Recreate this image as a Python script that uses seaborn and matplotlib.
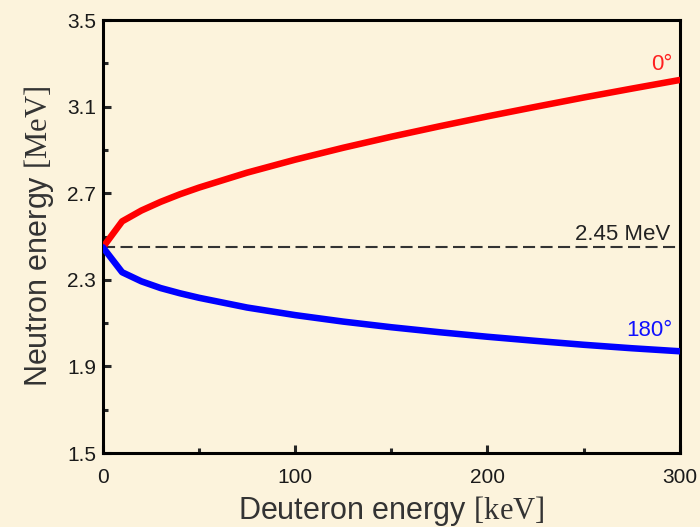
import numpy as np
import pandas as pd
import matplotlib.pyplot as plt
import matplotlib.ticker as ticker
import seaborn as sns

# deuteron energy (keV) and neutron energy (MeV)
deuteron_kev = [0, 10, 20, 30, 40, 50, 75, 100, 125, 150, 175, 200, 225, 250, 275, 300]
neutron_0deg = [2.45, 2.57, 2.62, 2.66, 2.695, 2.726, 2.795, 2.855, 2.91, 2.961,
                3.009, 3.055, 3.099, 3.142, 3.183, 3.223]
neutron_180deg = [2.45, 2.335, 2.293, 2.262, 2.238, 2.217, 2.172, 2.137, 2.107, 2.081,
                  2.058, 2.037, 2.018, 2.0, 1.984, 1.97]
ref_energy = 2.45
y_major = [1.5, 1.9, 2.3, 2.7, 3.1, 3.5]
y_minor = [1.7, 2.1, 2.5, 2.9, 3.3]

df = pd.DataFrame({'Ed': deuteron_kev, 'fwd': neutron_0deg, 'bwd': neutron_180deg})

bg = '#fcf3dc'
sns.set_theme(style='ticks')
plt.rcParams['font.family'] = ['Liberation Sans', 'DejaVu Sans']
plt.rcParams['mathtext.fontset'] = 'custom'
plt.rcParams['mathtext.rm'] = 'Liberation Serif'

fig = plt.figure(figsize=(7, 5.27), dpi=100, facecolor=bg)
ax = fig.add_axes([0.147, 0.1404, 0.824, 0.8216])
ax.set_facecolor(bg)

ax.axhline(ref_energy, color='#333333', lw=1.5, ls=(0, (5.8, 2.6)), zorder=1)
sns.lineplot(data=df, x='Ed', y='fwd', color='#ff0000', lw=4.7, ax=ax, zorder=3)
sns.lineplot(data=df, x='Ed', y='bwd', color='#0000ff', lw=4.7, ax=ax, zorder=3)

ax.set_xlim(0, 300)
ax.set_ylim(1.5, 3.5)
ax.xaxis.set_major_locator(ticker.MultipleLocator(100))
ax.xaxis.set_minor_locator(ticker.MultipleLocator(50))
ax.yaxis.set_major_locator(ticker.FixedLocator(y_major))
ax.yaxis.set_minor_locator(ticker.FixedLocator(y_minor))
ax.yaxis.set_major_formatter(ticker.FormatStrFormatter('%.1f'))

for s in ax.spines.values():
    s.set_linewidth(2.2)
    s.set_color('black')
ax.tick_params(which='major', direction='in', length=6, width=2.2, labelsize=15,
               labelcolor='#1a1a1a')
ax.tick_params(axis='x', which='major', pad=11)
ax.tick_params(axis='y', which='major', pad=5)
ax.tick_params(which='minor', direction='in', length=3.6, width=2.2)

ax.set_xlabel(r'Deuteron energy $[\mathrm{keV}]$', fontsize=22, color='#333333', labelpad=5)
ax.set_ylabel(r'Neutron energy $[\mathrm{MeV}]$', fontsize=22, color='#333333', labelpad=8)

ax.text(296, 3.27, '0°', color='#ff2020', fontsize=16, ha='right', va='baseline')
ax.text(296, 2.04, '180°', color='#1010ff', fontsize=16, ha='right', va='baseline')
ax.text(295, 2.485, '2.45 MeV', color='#222222', fontsize=16, ha='right', va='baseline')

fig.savefig('out.png', dpi=100, facecolor=bg)
